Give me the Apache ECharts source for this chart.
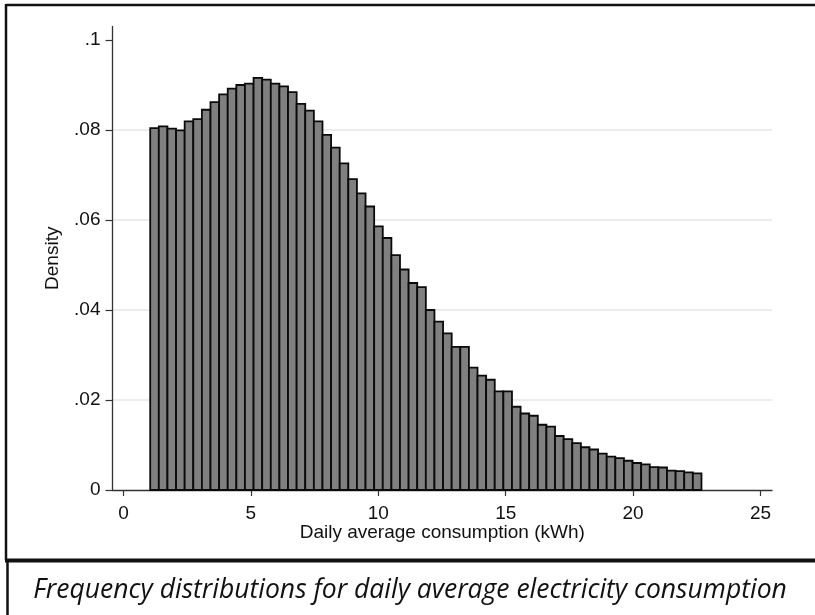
<!DOCTYPE html>
<html>
<head>
<meta charset="utf-8">
<script src="https://cdn.jsdelivr.net/npm/echarts@6/dist/echarts.min.js"></script>
<style>
html,body{margin:0;padding:0;background:#fff;}
#c{width:815px;height:615px;}
</style>
</head>
<body>
<div id="c"></div>
<script>
// Histogram data (density per bin)
const binStart = 1.05;
const binWidth = 0.338;
const density = [
  0.0804, 0.0808, 0.0803, 0.0799, 0.0819, 0.0824, 0.0845, 0.0862,
  0.0879, 0.0892, 0.0900, 0.0903, 0.0916, 0.0912, 0.0903, 0.0897,
  0.0884, 0.0858, 0.0843, 0.0819, 0.0789, 0.0761, 0.0726, 0.0691,
  0.0659, 0.0630, 0.0586, 0.0560, 0.0522, 0.0490, 0.0460, 0.0451,
  0.0400, 0.0374, 0.0348, 0.0318, 0.0318, 0.0272, 0.0254, 0.0245,
  0.0219, 0.0219, 0.0185, 0.0170, 0.0165, 0.0145, 0.0141, 0.0120,
  0.0113, 0.0104, 0.0095, 0.0090, 0.0081, 0.0074, 0.0071, 0.0065,
  0.0060, 0.0057, 0.0051, 0.0050, 0.0043, 0.0042, 0.0039, 0.0037
];
const xTicks = [0, 5, 10, 15, 20, 25];
const yTicks = [0, 0.02, 0.04, 0.06, 0.08, 0.1];
const yTickLabels = ['0', '.02', '.04', '.06', '.08', '.1'];
const xTitle = 'Daily average consumption (kWh)';
const yTitle = 'Density';
const caption = 'Frequency distributions for daily average electricity consumption';

const binData = density.map((d, i) => [binStart + i * binWidth, binStart + (i + 1) * binWidth, d]);

const chart = echarts.init(document.getElementById('c'), null, {renderer: 'canvas'});
const axisFont = 'Liberation Sans, Arial, sans-serif';
chart.setOption({
  animation: false,
  backgroundColor: '#fff',
  grid: {left: 112.5, right: 43, top: 26.5, bottom: 125},
  xAxis: {
    type: 'value', min: -0.43, max: 25.45,
    name: xTitle, nameLocation: 'middle', nameGap: 33, nameMoveOverlap: false,
    nameTextStyle: {fontFamily: axisFont, fontSize: 19, color: '#111'},
    axisLine: {show: true, onZero: false, lineStyle: {color: '#333', width: 1.3}},
    axisTick: {show: true, length: 6, lineStyle: {color: '#333', width: 1.2}, customValues: xTicks},
    axisLabel: {customValues: xTicks, fontFamily: axisFont, fontSize: 19, color: '#111', margin: 14},
    splitLine: {show: false}
  },
  yAxis: {
    type: 'value', min: 0, max: 0.103,
    name: yTitle, nameLocation: 'middle', nameGap: 50, nameRotate: 90,
    nameTextStyle: {fontFamily: axisFont, fontSize: 19, color: '#111'},
    axisLine: {show: true, onZero: false, lineStyle: {color: '#333', width: 1.3}},
    axisTick: {show: true, length: 7, lineStyle: {color: '#333', width: 1.2}, customValues: yTicks},
    axisLabel: {
      customValues: yTicks, fontFamily: axisFont, fontSize: 19, color: '#111', margin: 12,
      formatter: v => { const i = yTicks.findIndex(t => Math.abs(t - v) < 1e-9); return i >= 0 ? yTickLabels[i] : ''; }
    },
    interval: 0.02,
    splitLine: {show: true, showMinLine: false, showMaxLine: false, lineStyle: {color: '#e6e6e6', width: 1.5}}
  },
  series: [{
    type: 'custom',
    data: binData,
    encode: {x: [0, 1], y: 2},
    renderItem: function (params, api) {
      const p0 = api.coord([api.value(0), api.value(2)]);
      const p1 = api.coord([api.value(1), 0]);
      return {
        type: 'rect',
        shape: {x: p0[0], y: p0[1], width: p1[0] - p0[0], height: p1[1] - p0[1]},
        style: {fill: '#808080', stroke: '#0a0a0a', lineWidth: 1.8}
      };
    }
  }],
  graphic: [
    {type: 'line', shape: {x1: 6, y1: 5, x2: 815, y2: 5}, style: {stroke: '#111', lineWidth: 2.5}},
    {type: 'line', shape: {x1: 6, y1: 4, x2: 6, y2: 560}, style: {stroke: '#111', lineWidth: 2.5}},
    {type: 'line', shape: {x1: 7.5, y1: 560, x2: 7.5, y2: 615}, style: {stroke: '#111', lineWidth: 2.5}},
    {type: 'line', shape: {x1: 5, y1: 560.5, x2: 815, y2: 560.5}, style: {stroke: '#111', lineWidth: 4}},
    {type: 'text', x: 410, y: 590, style: {text: caption, fontFamily: 'Open Sans', fontStyle: 'italic', fontSize: 26.5, fill: '#111', align: 'center', verticalAlign: 'middle'}}
  ]
});
</script>
</body>
</html>
